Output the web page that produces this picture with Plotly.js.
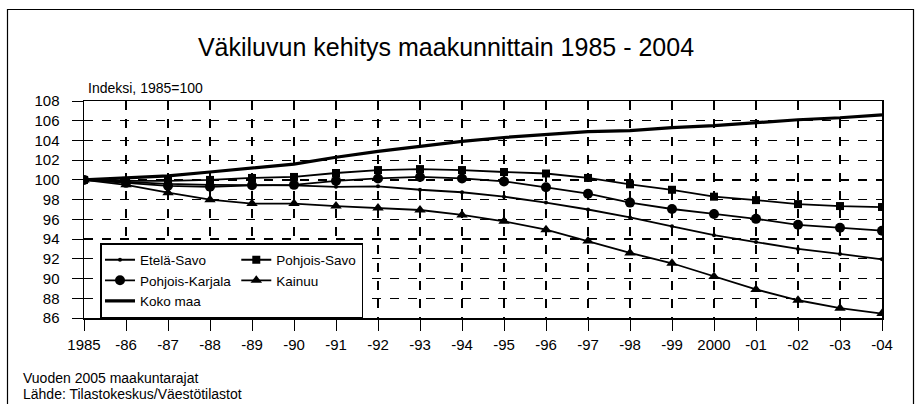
<!DOCTYPE html>
<html>
<head>
<meta charset="utf-8">
<script src="https://cdn.plot.ly/plotly-3.0.1.min.js"></script>
<style>
  html, body { margin: 0; padding: 0; background: #fff; }
  #chart { width: 916px; height: 404px; }
</style>
</head>
<body>
<div id="chart"></div>
<script>
const years = [1985,1986,1987,1988,1989,1990,1991,1992,1993,1994,1995,1996,1997,1998,1999,2000,2001,2002,2003,2004];
const tickLabels = ['1985','-86','-87','-88','-89','-90','-91','-92','-93','-94','-95','-96','-97','-98','-99','2000','-01','-02','-03','-04'];

const etelaSavo      = [100, 99.8, 99.6, 99.5, 99.45, 99.45, 99.3, 99.35, 99.0, 98.75, 98.3, 97.7, 97.0, 96.2, 95.3, 94.4, 93.7, 93.0, 92.5, 91.95];
const pohjoisSavo    = [100, 99.9, 99.9, 100.0, 100.2, 100.3, 100.7, 101.0, 101.1, 101.0, 100.8, 100.65, 100.2, 99.55, 99.0, 98.3, 97.95, 97.55, 97.35, 97.25];
const pohjoisKarjala = [100, 99.7, 99.4, 99.3, 99.45, 99.5, 99.9, 100.15, 100.3, 100.15, 99.85, 99.25, 98.6, 97.7, 97.05, 96.55, 96.05, 95.45, 95.15, 94.85];
const kainuu         = [100, 99.5, 98.7, 98.0, 97.6, 97.6, 97.35, 97.15, 96.95, 96.45, 95.8, 94.95, 93.8, 92.6, 91.55, 90.2, 88.9, 87.8, 87.0, 86.45];
const kokoMaa        = [100, 100.2, 100.4, 100.8, 101.2, 101.6, 102.3, 102.9, 103.4, 103.9, 104.3, 104.6, 104.9, 105.0, 105.3, 105.5, 105.8, 106.1, 106.3, 106.6];

const yTicks = [86,88,90,92,94,96,98,100,102,104,106,108];

const FONT = 'Liberation Sans, Arial, Helvetica, sans-serif';
const yMin = yTicks[0], yMax = yTicks[yTicks.length - 1];
const xMin = years[0], xMax = years[years.length - 1];

function tr(name, y, symbol, size, width, group) {
  const t = {
    x: years, y: y, name: name, type: 'scatter',
    mode: symbol ? 'lines+markers' : 'lines',
    legendgroup: group,
    line: {color: '#000', width: width}
  };
  if (symbol) t.marker = {symbol: symbol, size: size, color: '#000'};
  return t;
}

const data = [
  tr('Etelä-Savo', etelaSavo, 'circle', 4, 1.8, 'a'),
  tr('Pohjois-Savo', pohjoisSavo, 'square', 8, 1.8, 'b'),
  tr('Pohjois-Karjala', pohjoisKarjala, 'circle', 10, 1.8, 'a'),
  tr('Kainuu', kainuu, 'triangle-up', 10, 1.8, 'b'),
  tr('Koko maa', kokoMaa, null, 0, 3.2, 'a')
];

const L = 84, R = 34, T = 101, B = 86, W = 916, H = 404;
const pw = W - L - R, ph = H - T - B;
const px2x = px => (px - L) / pw;
const px2y = py => (H - B - py) / ph;

const layout = {
  width: W, height: H,
  margin: {l: L, r: R, t: T, b: B, pad: 0},
  paper_bgcolor: '#fff', plot_bgcolor: '#fff',
  font: {family: FONT, color: '#000', size: 15},
  title: {
    text: 'Väkiluvun kehitys maakunnittain 1985 - 2004',
    font: {family: FONT, size: 25, color: '#000'},
    x: 446 / W, xanchor: 'center', xref: 'container',
    y: 1 - 47 / H, yanchor: 'middle', yref: 'container'
  },
  xaxis: {
    range: [xMin, xMax],
    tickmode: 'array', tickvals: years, ticktext: tickLabels,
    ticks: 'outside', ticklen: 11, tickcolor: '#000', tickwidth: 1,
    showline: true, linecolor: '#000', linewidth: 1.5, mirror: true,
    showgrid: true, gridcolor: '#000', gridwidth: 1.2, griddash: 'dash',
    zeroline: false, ticklabelstandoff: 1,
    tickfont: {family: FONT, size: 15, color: '#000'}
  },
  yaxis: {
    range: [yMin, yMax],
    tickmode: 'array', tickvals: yTicks,
    ticks: 'outside', ticklen: 11, tickcolor: '#000', tickwidth: 1,
    showline: true, linecolor: '#000', linewidth: 1.5, mirror: true,
    showgrid: true, gridcolor: '#000', gridwidth: 1.2, griddash: 'dash',
    zeroline: false, ticklabelstandoff: 9,
    tickfont: {family: FONT, size: 15, color: '#000'}
  },
  showlegend: true,
  legend: {
    orientation: 'h', traceorder: 'grouped',
    x: px2x(100), xanchor: 'left', y: px2y(243), yanchor: 'top',
    bgcolor: '#fff', bordercolor: '#000', borderwidth: 1.5,
    font: {family: FONT, size: 13.5, color: '#000'},
    itemwidth: 30
  },
  annotations: [
    {text: 'Indeksi, 1985=100', xref: 'paper', yref: 'paper', x: px2x(86), y: px2y(88),
     xanchor: 'left', yanchor: 'middle', showarrow: false, font: {family: FONT, size: 14, color: '#000'}},
    {text: 'Vuoden 2005 maakuntarajat', xref: 'paper', yref: 'paper', x: px2x(21), y: px2y(378),
     xanchor: 'left', yanchor: 'middle', showarrow: false, font: {family: FONT, size: 14, color: '#000'}},
    {text: 'Lähde: Tilastokeskus/Väestötilastot', xref: 'paper', yref: 'paper', x: px2x(21), y: px2y(394),
     xanchor: 'left', yanchor: 'middle', showarrow: false, font: {family: FONT, size: 14, color: '#000'}}
  ],
  shapes: [
    {type: 'rect', xref: 'paper', yref: 'paper', x0: px2x(7.5), x1: px2x(913.5), y0: px2y(9.5), y1: px2y(420),
     line: {color: '#000', width: 1.2}, fillcolor: 'rgba(0,0,0,0)', layer: 'above'}
  ]
};

Plotly.newPlot('chart', data, layout, {displayModeBar: false, staticPlot: true});
</script>
</body>
</html>
